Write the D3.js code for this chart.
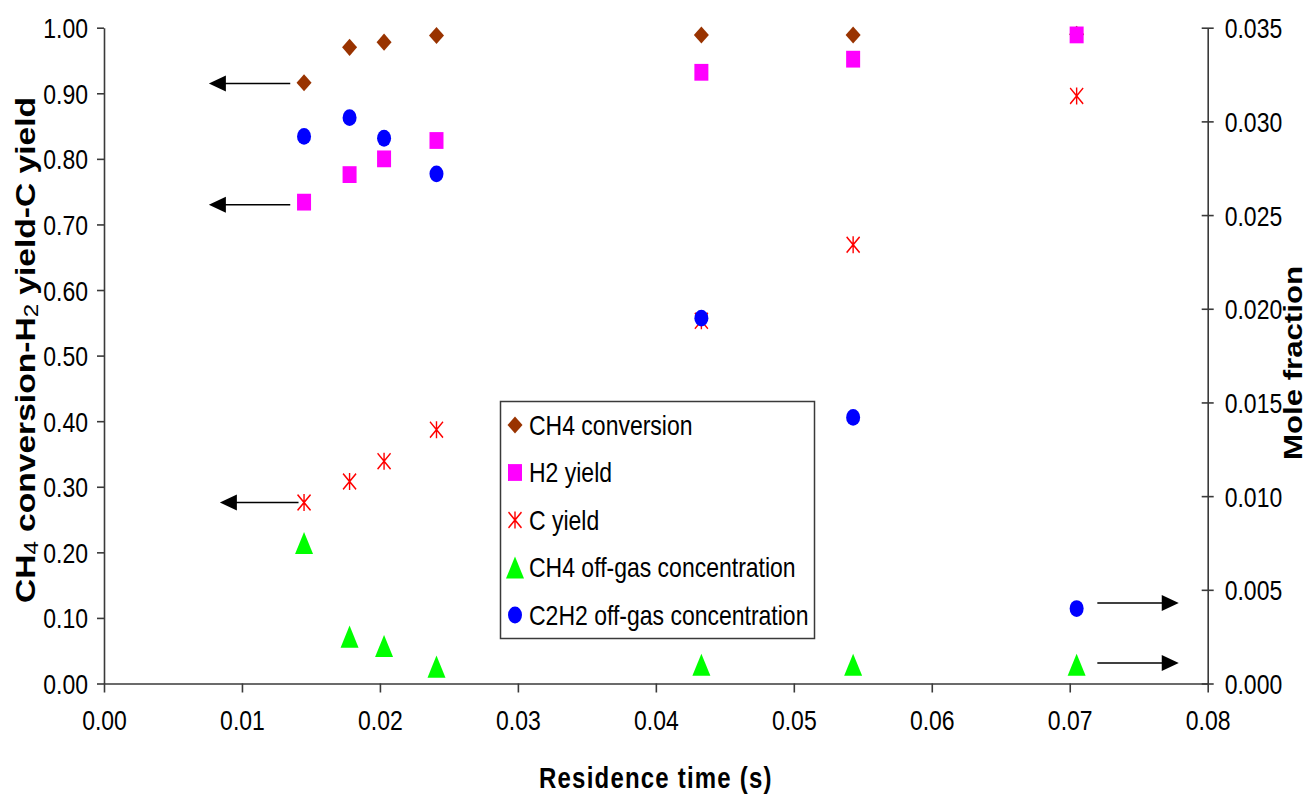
<!DOCTYPE html>
<html>
<head>
<meta charset="utf-8">
<script src="https://cdn.jsdelivr.net/npm/d3@7"></script>
<style>
  body { margin: 0; background: #fff; }
  text { font-family: "Liberation Sans", Arial, sans-serif; fill: #000; }
</style>
</head>
<body>
<script>
// Data
const time = [0.0145, 0.0178, 0.0203, 0.0241, 0.0433, 0.0543, 0.0705];
const ch4Conversion = [0.916, 0.970, 0.978, 0.988, 0.989, 0.989, 0.990];
const h2Yield = [0.734, 0.776, 0.800, 0.828, 0.932, 0.952, 0.989];
const cYield = [0.276, 0.308, 0.339, 0.387, 0.553, 0.669, 0.896];
const ch4OffGas = [0.0075, 0.0025, 0.0020, 0.0009, 0.0010, 0.0010, 0.0010];
const c2h2OffGas = [0.0292, 0.0302, 0.0291, 0.0272, 0.0195, 0.0142, 0.0040];

const xTicks = [0, 0.01, 0.02, 0.03, 0.04, 0.05, 0.06, 0.07, 0.08];
const leftTicks = [0, 0.1, 0.2, 0.3, 0.4, 0.5, 0.6, 0.7, 0.8, 0.9, 1.0];
const rightTicks = [0, 0.005, 0.010, 0.015, 0.020, 0.025, 0.030, 0.035];

const seriesNames = ["CH4 conversion", "H2 yield", "C yield",
    "CH4 off-gas concentration", "C2H2 off-gas concentration"];

// arrows pointing to the axis each series is read on
const leftArrows = [
    {y: 0.915, from: 0.0135, to: 0.0076},
    {y: 0.730, from: 0.0135, to: 0.0076},
    {y: 0.276, from: 0.0141, to: 0.0084}
];
const rightArrows = [
    {y: 0.0043, from: 0.0720, to: 0.0779},
    {y: 0.0011, from: 0.0720, to: 0.0779}
];

const W = 1307, H = 796;
const SY = 1.2;   // the original picture is stretched vertically
const stretch = (x, y) => `translate(${x},${y}) scale(1,${SY})`;
const axisColor = "#3a3a3a";

const x = d3.scaleLinear().domain([0, 0.08]).range([104, 1207.7]);
const yL = d3.scaleLinear().domain([0, 1]).range([683.5, 27.7]);
const yR = d3.scaleLinear().domain([0, 0.035]).range([683.5, 27.7]);

const shapes = {
    diamond: "M0,-7.1L7.5,0L0,7.1L-7.5,0Z",
    square: "M-7,-7H7V7H-7Z",
    star: "M0,-7.1V7.1M-6.5,-6.6L6.5,6.6M6.5,-6.6L-6.5,6.6",
    triangle: "M0,-9.2L9,9.2L-9,9.2Z",
    circle: "M-7,0A7,7 0 1,0 7,0A7,7 0 1,0 -7,0Z"
};

const series = [
    {name: seriesNames[0], values: ch4Conversion, y: yL, shape: "diamond", color: "#993300"},
    {name: seriesNames[1], values: h2Yield, y: yL, shape: "square", color: "#ff00ff"},
    {name: seriesNames[2], values: cYield, y: yL, shape: "star", color: "#ff0000"},
    {name: seriesNames[3], values: ch4OffGas, y: yR, shape: "triangle", color: "#00ff00"},
    {name: seriesNames[4], values: c2h2OffGas, y: yR, shape: "circle", color: "#0000ff"}
];

const svg = d3.select("body").append("svg")
    .attr("width", W)
    .attr("height", H);

// Axes
const gx = svg.append("g")
    .attr("transform", `translate(0,${yL(0)})`)
    .call(d3.axisBottom(x).tickValues(xTicks).tickFormat(d3.format(".2f"))
        .tickSize(9).tickSizeOuter(0));
gx.selectAll(".tick text")
    .attr("y", 0).attr("dy", 0)
    .attr("transform", stretch(0, 46));

const gl = svg.append("g")
    .attr("transform", `translate(${x(0)},0)`)
    .call(d3.axisLeft(yL).tickValues(leftTicks).tickFormat(d3.format(".2f"))
        .tickSize(7).tickSizeOuter(0));
gl.selectAll(".tick text")
    .attr("x", 0).attr("dy", 0)
    .attr("transform", stretch(-16, 10));

const gr = svg.append("g")
    .attr("transform", `translate(${x(0.08)},0)`)
    .call(d3.axisRight(yR).tickValues(rightTicks).tickFormat(d3.format(".3f"))
        .tickSize(6).tickSizeOuter(0));
gr.selectAll(".tick line").attr("x1", -6);
gr.selectAll(".tick text")
    .attr("x", 0).attr("dy", 0)
    .attr("transform", stretch(17, 10));

[gx, gl, gr].forEach(g => {
    g.select(".domain").attr("stroke", axisColor).attr("stroke-width", 1.6);
    g.selectAll(".tick line").attr("stroke", axisColor).attr("stroke-width", 1.6);
    g.selectAll(".tick text")
        .attr("fill", "#000")
        .style("font-size", "23px")
        .style("font-family", '"Liberation Sans", Arial, sans-serif');
});

// Axis titles
svg.append("text")
    .attr("transform", stretch(x(0.04), 788))
    .attr("text-anchor", "middle")
    .style("font-size", "24px")
    .style("font-weight", "bold")
    .style("letter-spacing", "1.2px")
    .text("Residence time (s)");

const yTitle = svg.append("text")
    .attr("transform", `translate(35,350) scale(1,${SY}) rotate(-90)`)
    .attr("text-anchor", "middle")
    .style("font-size", "28px")
    .style("font-weight", "bold");
yTitle.append("tspan").text("CH");
yTitle.append("tspan").attr("dy", 3).style("font-size", "20px").style("font-weight", "normal").text("4");
yTitle.append("tspan").attr("dy", -3).text(" conversion-H");
yTitle.append("tspan").attr("dy", 3).style("font-size", "20px").style("font-weight", "normal").text("2");
yTitle.append("tspan").attr("dy", -3).text(" yield-C yield");

svg.append("text")
    .attr("transform", `translate(1302,363) scale(1,${SY}) rotate(-90)`)
    .attr("text-anchor", "middle")
    .style("font-size", "26px")
    .style("font-weight", "bold")
    .text("Mole fraction");

// Markers
function drawMarker(g, s) {
    const p = g.append("path").attr("d", shapes[s.shape]);
    if (s.shape === "star") {
        p.attr("fill", "none").attr("stroke", s.color).attr("stroke-width", 1.4);
    } else {
        p.attr("fill", s.color);
    }
}

series.forEach(s => {
    svg.append("g").selectAll("g")
        .data(time.map((t, i) => ({t: t, v: s.values[i]})))
        .join("g")
        .attr("transform", d => stretch(x(d.t), s.y(d.v)))
        .each(function () { drawMarker(d3.select(this), s); });
});

// Arrows
function arrow(x1, x2, yy) {
    const dir = Math.sign(x2 - x1);
    svg.append("line")
        .attr("x1", x1).attr("x2", x2 - dir * 16)
        .attr("y1", yy).attr("y2", yy)
        .attr("stroke", "#000").attr("stroke-width", 1.5);
    svg.append("path")
        .attr("d", `M${x2},${yy}L${x2 - dir * 17},${yy - 8}L${x2 - dir * 17},${yy + 8}Z`)
        .attr("fill", "#000");
}
leftArrows.forEach(a => arrow(x(a.from), x(a.to), yL(a.y)));
rightArrows.forEach(a => arrow(x(a.from), x(a.to), yR(a.y)));

// Legend
const legend = svg.append("g");
legend.append("rect")
    .attr("x", 500.5).attr("y", 401.5)
    .attr("width", 314).attr("height", 237)
    .attr("fill", "#fff")
    .attr("stroke", axisColor).attr("stroke-width", 1.5);

series.forEach((s, i) => {
    const cy = 425 + i * 47.5;
    const m = legend.append("g").attr("transform", stretch(515, cy));
    drawMarker(m, s);
    legend.append("text")
        .attr("transform", stretch(529, cy + 9.5))
        .style("font-size", "23px")
        .text(s.name);
});
</script>
</body>
</html>
